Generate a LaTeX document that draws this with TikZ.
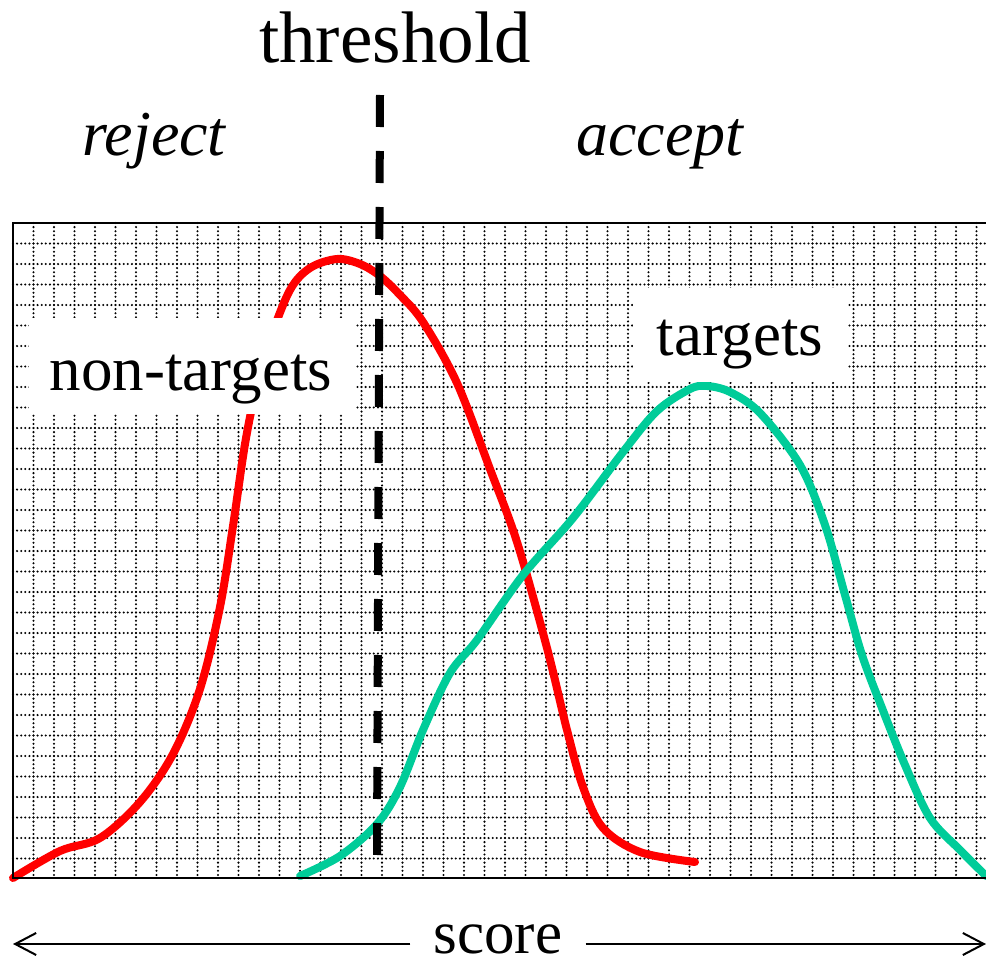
\documentclass[tikz,border=0pt]{standalone}
\usepackage{fontspec}
\setmainfont{Liberation Serif}
\usetikzlibrary{arrows.meta}
\definecolor{nontgt}{RGB}{255,0,0}
\definecolor{tgt}{RGB}{0,204,153}
\begin{document}
\begin{tikzpicture}[x=1pt,y=-1pt,
  gridline/.style={black, line width=2.3pt, line cap=round, dash pattern=on 0pt off 4.1pt},
  curve/.style={line width=8pt, line cap=round, line join=round},
  whitebox/.style={fill=white, inner sep=0pt, anchor=north west},
  bigtext/.style={inner sep=0pt, anchor=base, font=\fontsize{63}{70}\selectfont},
  sidetext/.style={inner sep=0pt, anchor=base, font=\fontsize{64}{72}\selectfont\itshape},
  axisarrow/.style={line width=2pt, -{Straight Barb[length=21pt, width=22pt]}}]
\useasboundingbox (0,0) rectangle (986,966);
% dotted grid
\foreach \i in {1,...,47} \draw[gridline] ({13+20.5*\i},223) -- ({13+20.5*\i},878);
\foreach \j in {1,...,31} \draw[gridline] (13,{223+20.5*\j}) -- (986,{223+20.5*\j});
% curves
\draw[curve, nontgt] plot[smooth, tension=0.55] coordinates {
 (13,878) (60,851) (100,838) (140,802) (173,754) (200,689) (220,607) (233,526)
 (245,444) (256,390) (270,340) (290,290) (310,268) (337,259) (360,264) (380,276)
 (400,295) (423,322) (457,383) (490,469) (517,542) (547,648) (567,730) (583,787)
 (603,828) (640,852) (695,862)};
\draw[curve, tgt] plot[smooth, tension=0.55] coordinates {
 (300,876) (340,856) (377,824) (400,787) (423,730) (450,673) (477,640) (523,575)
 (573,518) (623,452) (657,411) (690,389) (707,386) (730,392) (760,413) (800,465)
 (825,525) (845,595) (862,655) (882,708) (905,765) (930,818) (960,850) (986,876)};
% label boxes
\node[whitebox, minimum width=327pt, minimum height=96pt] (ntbox) at (29,318) {};
\node[whitebox, minimum width=215pt, minimum height=94pt] (tbox) at (633,288) {};
\node[bigtext] (nt) at (191,390) {non-targets};
\node[bigtext] (tg) at (740,355) {targets};
% frame
\draw[line width=2.5pt] (986,223) -- (13,223) -- (13,878) -- (986,878);
% threshold
\node[inner sep=0pt, anchor=base, font=\fontsize{73}{80}\selectfont] (thr) at (395,63) {threshold};
\coordinate (thtop) at (380,95);
\coordinate (thbot) at (377,855);
\draw[line width=8pt, dash pattern=on 32pt off 24pt] (thtop) -- (thbot);
\node[sidetext] (rej) at (154,155) {reject};
\node[sidetext] (acc) at (660,155) {accept};
% score axis
\node[bigtext, font=\fontsize{61}{70}\selectfont, inner xsep=23pt] (score) at (498,953) {score};
\coordinate (sl) at (13,944);
\coordinate (sr) at (986,944);
\draw[axisarrow] (score.west |- sl) -- (sl);
\draw[axisarrow] (score.east |- sr) -- (sr);
\end{tikzpicture}
\end{document}
